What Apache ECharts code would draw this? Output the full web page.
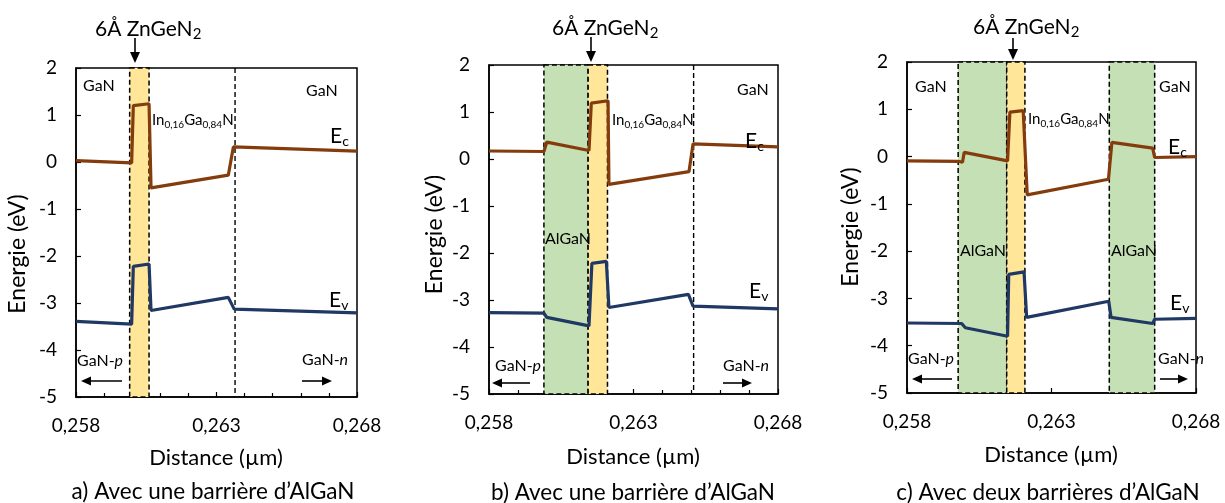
<!DOCTYPE html>
<html>
<head>
<meta charset="utf-8">
<script src="https://cdn.jsdelivr.net/npm/echarts@6/dist/echarts.min.js"></script>
<style>
html,body{margin:0;padding:0;background:#fff;}
#c{width:1225px;height:503px;}
</style>
</head>
<body>
<div id="c"></div>
<script>
// ---------- DATA ----------
var xTickLabels = ['0,258', '0,263', '0,268'];
var yTickValues = [2, 1, 0, -1, -2, -3, -4, -5];

// Panel a
var xA_Ec = [0.258, 0.25998, 0.26004, 0.2606, 0.26067, 0.26342, 0.2636, 0.268];
var ecA   = [0.03, -0.02, 1.20, 1.24, -0.55, -0.28, 0.32, 0.23];
var xA_Ev = [0.258, 0.25998, 0.26004, 0.2606, 0.26067, 0.26342, 0.26363, 0.268];
var evA   = [-3.39, -3.45, -2.22, -2.17, -3.16, -2.88, -3.13, -3.21];
var bandsA = [[0.25991, 0.2606, 'ZnGeN2']];
var interfaceA = [0.26366];

// Panel b
var xB_Ec = [0.258, 0.2599, 0.26, 0.26146, 0.26154, 0.26212, 0.26215, 0.26492, 0.26506, 0.268];
var ecB   = [0.17, 0.16, 0.36, 0.18, 1.19, 1.24, -0.54, -0.27, 0.32, 0.26];
var xB_Ev = [0.258, 0.2599, 0.26, 0.26146, 0.26156, 0.26206, 0.26215, 0.2649, 0.26506, 0.268];
var evB   = [-3.27, -3.28, -3.37, -3.55, -2.22, -2.18, -3.16, -2.88, -3.13, -3.19];
var bandsB = [[0.2599, 0.26143, 'AlGaN'], [0.26143, 0.2621, 'ZnGeN2']];
var interfaceB = [0.26508];

// Panel c
var xC_Ec = [0.258, 0.25977, 0.25992, 0.25998, 0.26148, 0.26156, 0.26202, 0.26216, 0.26497, 0.26509, 0.2665, 0.26657, 0.268];
var ecC   = [-0.09, -0.1, -0.12, 0.09, -0.09, 0.94, 0.97, -0.81, -0.48, 0.30, 0.18, -0.02, 0.0];
var xC_Ev = [0.258, 0.25989, 0.26002, 0.26148, 0.26152, 0.26205, 0.26214, 0.26498, 0.26506, 0.2665, 0.26657, 0.268];
var evC   = [-3.52, -3.53, -3.62, -3.80, -2.49, -2.44, -3.40, -3.06, -3.40, -3.53, -3.44, -3.42];
var bandsC = [[0.25977, 0.26145, 'AlGaN'], [0.26145, 0.26208, 'ZnGeN2'], [0.265, 0.26657, 'AlGaN']];
var interfaceC = [];

var captions = ["a) Avec une barrière d\u2019AlGaN", "b) Avec une barrière d\u2019AlGaN", "c) Avec deux barrières d\u2019AlGaN"];

// ---------- STYLE / LAYOUT ----------
var FONT = 'Lato, "Open Sans", sans-serif';
var EC_COLOR = '#843C0C';
var EV_COLOR = '#203864';
var BAND_COLORS = {ZnGeN2: '#FFE699', AlGaN: '#C5E0B4'};
var grids = [
  {left: 76, top: 68, width: 281, height: 329},
  {left: 489, top: 65, width: 289, height: 329},
  {left: 907, top: 62, width: 289, height: 331}
];
var minorTicks = [true, true, false];

function pairs(xs, ys) { return xs.map(function (x, i) { return [x, ys[i]]; }); }

var panels = [
  {ecX: xA_Ec, ec: ecA, evX: xA_Ev, ev: evA, bands: bandsA, lines: interfaceA},
  {ecX: xB_Ec, ec: ecB, evX: xB_Ev, ev: evB, bands: bandsB, lines: interfaceB},
  {ecX: xC_Ec, ec: ecC, evX: xC_Ev, ev: evC, bands: bandsC, lines: interfaceC}
];

var option = {
  animation: false,
  backgroundColor: '#fff',
  grid: [], xAxis: [], yAxis: [], series: [], graphic: []
};

panels.forEach(function (p, i) {
  option.grid.push(Object.assign({show: true, borderColor: '#000', borderWidth: 1.5, backgroundColor: 'transparent'}, grids[i]));
  option.xAxis.push({
    type: 'value', gridIndex: i, min: 0.258, max: 0.268, interval: 0.005,
    axisLine: {show: true, onZero: false, lineStyle: {color: '#000', width: 1.5}},
    axisTick: {show: true, inside: true, length: 5, lineStyle: {color: '#000', width: 1.2}},
    minorTick: {show: minorTicks[i], splitNumber: 5, length: 4, lineStyle: {color: '#000', width: 1.2}},
    splitLine: {show: false},
    axisLabel: {color: '#000', fontSize: 19, fontFamily: FONT, margin: 19,
      formatter: function (v) { var k = Math.round((v - 0.258) / 0.005); return xTickLabels[k] || ''; }}
  });
  option.yAxis.push({
    type: 'value', gridIndex: i, min: -5, max: 2, interval: 1,
    axisLine: {show: true, onZero: false, lineStyle: {color: '#000', width: 1.5}},
    axisTick: {show: true, inside: true, length: 5, lineStyle: {color: '#000', width: 1.2}},
    splitLine: {show: false},
    axisLabel: {color: '#000', fontSize: 19, fontFamily: FONT, margin: 19,
      formatter: function (v) { return yTickValues.indexOf(v) >= 0 ? String(v) : ''; }}
  });
  // shaded layers
  option.series.push({
    type: 'line', xAxisIndex: i, yAxisIndex: i, data: [], z: 2, silent: true,
    markArea: {
      silent: true, label: {show: false},
      data: p.bands.map(function (b) {
        return [
          {xAxis: b[0], yAxis: 2, itemStyle: {color: BAND_COLORS[b[2]], borderColor: '#000', borderWidth: 1.5, borderType: [5, 3]}},
          {xAxis: b[1], yAxis: -5}
        ];
      })
    }
  });
  // dashed interface lines (InGaN / GaN)
  p.lines.forEach(function (x) {
    option.series.push({
      type: 'line', xAxisIndex: i, yAxisIndex: i, z: 3, silent: true, symbol: 'none', showSymbol: false,
      lineStyle: {color: '#000', width: 1.4, type: [5, 3]},
      data: [[x, 2], [x, -5]]
    });
  });
  option.series.push({
    type: 'line', name: 'Ec', xAxisIndex: i, yAxisIndex: i, z: 4, showSymbol: false, symbol: 'none',
    lineStyle: {color: EC_COLOR, width: 3.2}, data: pairs(p.ecX, p.ec)
  });
  option.series.push({
    type: 'line', name: 'Ev', xAxisIndex: i, yAxisIndex: i, z: 4, showSymbol: false, symbol: 'none',
    lineStyle: {color: EV_COLOR, width: 3.2}, data: pairs(p.evX, p.ev)
  });
});

// ---------- ANNOTATIONS ----------
var G = option.graphic;
function txt(x, y, text, size, opts) {
  opts = opts || {};
  G.push({
    type: 'text', x: x, y: y, rotation: opts.rot || 0, z: 100, silent: true,
    style: {
      text: text, fill: '#000', font: size + 'px ' + FONT,
      align: opts.align || 'left', verticalAlign: 'middle', rich: opts.rich
    }
  });
}
function subRich(size, subSize) {
  return {
    m: {fontSize: size, fontFamily: FONT, fill: '#000', lineHeight: size + 4},
    s: {fontSize: subSize, fontFamily: FONT, fill: '#000', verticalAlign: 'bottom'}
  };
}
var italRich = {m: {fontSize: 16, fontFamily: FONT, fill: '#000'}, i: {fontSize: 16, fontFamily: FONT, fontStyle: 'italic', fill: '#000'}};
function arrowH(x1, x2, y) { // from x1 to tip x2
  var dir = x2 > x1 ? 1 : -1;
  G.push({type: 'line', z: 100, silent: true, shape: {x1: x1, y1: y, x2: x2 - dir * 8, y2: y}, style: {stroke: '#000', lineWidth: 1.6}});
  G.push({type: 'polygon', z: 100, silent: true, shape: {points: [[x2, y], [x2 - dir * 10, y - 4.5], [x2 - dir * 10, y + 4.5]]}, style: {fill: '#000'}});
}
function arrowV(x, y1, y2) {
  G.push({type: 'line', z: 100, silent: true, shape: {x1: x, y1: y1, x2: x, y2: y2 - 8}, style: {stroke: '#000', lineWidth: 1.6}});
  G.push({type: 'polygon', z: 100, silent: true, shape: {points: [[x, y2], [x - 5, y2 - 11], [x + 5, y2 - 11]]}, style: {fill: '#000'}});
}

var ingan = '{m|In}{s|0,16}{m|Ga}{s|0,84}{m|N}';
var inganRich = subRich(15, 10);
var titleRich = subRich(21, 15);
var eRich = subRich(21, 14);
var titleTxt = '{m|6Å ZnGeN}{s|2}';

// Panel a
txt(95, 29, titleTxt, 21, {rich: titleRich});
arrowV(135, 38, 63);
txt(83, 86, 'GaN', 16);
txt(306, 91, 'GaN', 16);
txt(152, 120, ingan, 15, {rich: inganRich});
txt(330, 136, '{m|E}{s|c}', 21, {rich: eRich});
txt(329, 300, '{m|E}{s|v}', 21, {rich: eRich});
txt(77, 361, '{m|GaN-}{i|p}', 16, {rich: italRich});
txt(302, 360, '{m|GaN-}{i|n}', 16, {rich: italRich});
arrowH(122, 81, 381);
arrowH(302, 332, 381);
txt(17.5, 254, 'Energie (eV)', 23, {rot: Math.PI / 2, align: 'center'});
txt(216, 458, 'Distance (\u00b5m)', 22, {align: 'center'});
txt(213, 492, captions[0], 22.5, {align: 'center'});

// Panel b
txt(552, 28.5, titleTxt, 21, {rich: titleRich});
arrowV(591, 37, 62);
txt(737, 90, 'GaN', 16);
txt(612, 120, ingan, 15, {rich: inganRich});
txt(745, 141, '{m|E}{s|c}', 21, {rich: eRich});
txt(545, 239, 'AlGaN', 16);
txt(749, 291, '{m|E}{s|v}', 21, {rich: eRich});
txt(495, 366, '{m|GaN-}{i|p}', 16, {rich: italRich});
txt(723, 366, '{m|GaN-}{i|n}', 16, {rich: italRich});
arrowH(530, 492, 383);
arrowH(723, 752, 383);
txt(435, 234.5, 'Energie (eV)', 23, {rot: Math.PI / 2, align: 'center'});
txt(633, 457, 'Distance (\u00b5m)', 22, {align: 'center'});
txt(633, 493, captions[1], 22.5, {align: 'center'});

// Panel c
txt(973, 27, titleTxt, 21, {rich: titleRich});
arrowV(1013, 38, 60);
txt(915, 87, 'GaN', 16);
txt(1159, 87, 'GaN', 16);
txt(1028, 119, ingan, 15, {rich: inganRich});
txt(1168, 147, '{m|E}{s|c}', 21, {rich: eRich});
txt(960, 251, 'AlGaN', 16);
txt(1111, 251, 'AlGaN', 16);
txt(1170, 303, '{m|E}{s|v}', 21, {rich: eRich});
txt(908, 359, '{m|GaN-}{i|p}', 16, {rich: italRich});
txt(1158, 359, '{m|GaN-}{i|n}', 16, {rich: italRich});
arrowH(952, 912, 379);
arrowH(1160, 1188, 379);
txt(851, 227, 'Energie (eV)', 23, {rot: Math.PI / 2, align: 'center'});
txt(1051, 455, 'Distance (\u00b5m)', 22, {align: 'center'});
txt(1048, 493, captions[2], 22.5, {align: 'center'});

var chart = echarts.init(document.getElementById('c'), null, {renderer: 'canvas'});
chart.setOption(option);
</script>
</body>
</html>
